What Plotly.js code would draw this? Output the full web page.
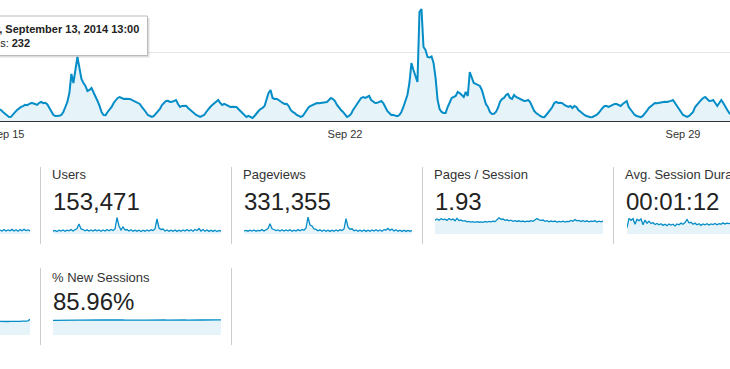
<!DOCTYPE html>
<html>
<head>
<meta charset="utf-8">
<script src="https://cdn.plot.ly/plotly-3.0.1.min.js"></script>
<style>
html,body{margin:0;padding:0;background:#fff;overflow:hidden;}
#chart{width:730px;height:369px;}
</style>
</head>
<body>
<div id="chart"></div>
<script>
// ---------- DATA ----------
// Hourly sessions, starting 2014-09-14 20:00
var startHour = '2014-09-14T20:00:00Z';
var sep14 = [174,160,131,102];
var sep15 = [87,58,61,102,128,160,186,205,216,235,230,248,262,258,245,233,264,276,259,263,244,190,128,89];
var sep16 = [73,70,75,87,131,203,276,406,682,551,711,928,769,609,551,508,435,450,479,421,363,290,218,131];
var sep17 = [87,85,131,160,203,261,305,334,348,334,319,322,318,320,305,290,276,261,247,203,174,131,87,73];
var sep18 = [58,73,102,131,174,232,261,290,292,276,278,290,305,247,203,218,216,220,189,160,131,102,87,73];
var sep19 = [58,73,87,131,174,203,232,261,290,305,261,232,247,232,218,203,205,201,203,174,145,116,87,58];
var sep20 = [73,58,44,73,116,145,174,189,218,305,406,450,334,319,321,305,276,261,247,249,218,160,131,116];
var sep21 = [87,73,58,73,116,174,203,218,232,247,261,259,263,261,276,274,305,334,319,290,232,189,160,131];
var sep22 = [87,58,73,102,160,203,261,305,334,348,334,348,363,305,276,261,263,276,290,261,203,145,116,87];
var sep23 = [87,73,70,87,131,203,290,377,551,841,740,638,566,1581,1624,1073,1030,928,920,935,841,624,305,174];
var sep24 = [131,116,116,203,261,334,348,363,421,406,377,348,421,363,711,624,551,537,522,508,450,348,247,203];
var sep25 = [131,102,104,131,189,276,319,334,377,392,334,319,377,348,334,319,305,290,292,305,276,203,145,116];
var sep26 = [87,73,58,55,87,116,160,203,261,276,261,263,259,232,218,203,218,189,218,203,160,131,102,87];
var sep27 = [73,58,55,58,73,87,116,160,189,218,216,203,218,232,247,245,232,218,247,276,290,203,160,116];
var sep28 = [87,73,58,55,73,102,145,189,218,247,261,259,263,276,274,278,276,290,292,305,261,218,160,116];
var sep29 = [87,73,58,73,102,131,203,232,276,305,334,348,319,290,292,305,261,218,261,305,261,203,160,116];
var sep30 = [87];

var tickVals = ['2014-09-15 00:00','2014-09-22 00:00','2014-09-29 00:00'];
var tickText = ['Sep 15','Sep 22','Sep 29'];

// Scorecards
var cardTitles = ['Users','Pageviews','Pages / Session','Avg. Session Duration','% New Sessions'];
var cardValues = ['153,471','331,355','1.93','00:01:12','85.96%'];

// Sparklines
var sessionsSpark = [440,330,495,330,440,352,506,330,462,308,484,352,528,374,440,352];
var usersSpark = [300,350,250,380,300,400,280,380,320,450,300,400,550,1000,500,450,320,420,300,400,300,420,320,400,280,400,300,450,320,450,350,500,1650,800,400,700,400,450,300,420,280,380,280,380,250,380,280,400,300,420,350,500,1500,600,450,500,300,400,280,380,280,400,260,380,280,400,300,450,300,420,280,450,350,550,300,450,280,400,260,380,260,380,250,350,300];
var pageviewsSpark = [704,792,616,836,660,880,616,792,704,968,660,880,1210,2266,1144,990,748,880,660,924,660,880,704,924,616,836,660,968,704,1012,836,1320,3740,1980,1760,1100,1012,704,924,616,880,616,836,572,836,616,880,660,924,748,1100,3388,1540,1056,1144,704,880,616,836,616,880,572,836,616,880,660,924,660,880,616,968,880,1232,792,1100,660,924,616,836,572,836,572,792,616,748];
var pagesPerSessionSpark = [2.09,2.29,2.11,2.33,2.20,2.26,2.08,2.36,2.17,2.29,2.02,2.40,2.05,2.14,1.98,2.05,1.86,1.94,1.83,1.89,1.78,1.89,1.80,1.86,1.78,1.91,1.83,1.92,1.86,1.95,1.89,2.17,2.48,2.25,2.29,2.09,2.17,2.02,2.11,1.94,2.05,1.92,2.02,1.89,1.98,1.86,1.98,1.92,2.05,1.95,2.17,2.36,2.17,2.08,2.14,1.95,2.05,1.86,1.98,1.89,1.98,1.83,1.92,1.86,1.95,1.83,1.94,1.89,2.08,1.95,2.20,2.02,2.09,1.92,2.05,1.89,2.02,1.86,1.98,1.92,2.02,1.83,1.95,1.86,1.98];
var avgDurationSpark = [45,112,98,110,70,105,95,108,66,100,78,92,75,82,68,76,66,74,62,70,60,72,64,70,58,72,66,78,70,82,104,80,84,70,78,66,74,62,72,66,74,64,72,68,76,66,74,70,80,72,78,74,78];
var bounceSpark = [60.5,59.8,59.2,60.1,59.5,60.3,59.7,60.6,60.0,60.8,60.2,61.0,60.4,61.5,62.5,69.0];
var newSessionsSpark = [83.5,83.8,83.6,84.0,83.9,84.2,84.5,84.4,85.0,85.3,85.8,86.5,87.2,86.8,87.5,87.0,86.6,87.1,86.4,86.8,86.2,86.7,86.5,86.9,86.3,86.6,86.1,86.5,86.0,86.4,85.8,86.2,85.6,86.0,85.5,85.9,85.4,85.8,85.6,86.0,85.5,85.2,85.7,85.1,85.6,85.3,85.8,85.4,85.9,85.5,86.0,85.6,85.9,85.4,85.8,85.5,86.1,85.7,86.2,85.8,86.0,85.6,86.1,85.7,86.3,85.9,86.2,85.8,86.4,86.0,86.3,85.9,86.5,86.1,86.4,86.0,86.6,86.2,86.5,86.1,86.7,86.3,86.8,86.5,87.0];

// ---------- BUILD ----------
var W = 730, H = 369;
function px(x){ return x / W; }
function py(y){ return 1 - y / H; }

var sessions = [].concat(sep14,sep15,sep16,sep17,sep18,sep19,sep20,sep21,sep22,sep23,sep24,sep25,sep26,sep27,sep28,sep29,sep30);
var t0 = Date.parse(startHour);
var times = sessions.map(function(_, i){
  var d = new Date(t0 + i * 3600000).toISOString();
  return d.slice(0,10) + ' ' + d.slice(11,16);
});

var BLUE = '#058dc7';
var FILL = 'rgba(5,141,199,0.1)';
var FONT = 'Liberation Sans, Arial, Helvetica, sans-serif';

var traces = [{
  x: times, y: sessions, type: 'scatter', mode: 'lines',
  line: {color: BLUE, width: 2}, fill: 'tozeroy', fillcolor: FILL,
  xaxis: 'x', yaxis: 'y', hoverinfo: 'skip'
}];

var layout = {
  width: W, height: H,
  margin: {l: 0, r: 0, t: 0, b: 0, pad: 0},
  paper_bgcolor: '#fff', plot_bgcolor: '#fff',
  showlegend: false,
  font: {family: FONT, color: '#333'},
  xaxis: {
    type: 'date', domain: [0, 1], anchor: 'y',
    range: ['2014-09-14 20:31:15', '2014-09-29 23:20'],
    showgrid: false, zeroline: false,
    showline: true, linecolor: '#333', linewidth: 1,
    tickmode: 'array', tickvals: tickVals, ticktext: tickText,
    ticks: '', ticklabelstandoff: 3, ticklabeloverflow: 'allow',
    tickfont: {size: 11, color: '#333', family: FONT},
    fixedrange: true
  },
  yaxis: {
    domain: [py(121), 1], anchor: 'x',
    range: [0, 1754.5], dtick: 1000, tick0: 0,
    showgrid: true, gridcolor: '#e6e6e6', gridwidth: 1,
    zeroline: false, showticklabels: false, ticks: '', showline: false,
    fixedrange: true
  },
  shapes: [],
  annotations: []
};

var sparks = [
  {v: sessionsSpark, x0: 0, x1: 30, y0: 217, y1: 234, max: 1870},
  {v: usersSpark, x0: 53, x1: 221, y0: 217, y1: 234, max: 1700},
  {v: pageviewsSpark, x0: 244, x1: 412, y0: 217, y1: 234, max: 3740},
  {v: pagesPerSessionSpark, x0: 435, x1: 603, y0: 217, y1: 234, max: 2.6},
  {v: avgDurationSpark, x0: 627, x1: 730, y0: 217, y1: 234, max: 122},
  {v: bounceSpark, x0: 0, x1: 30, y0: 318, y1: 335, max: 75},
  {v: newSessionsSpark, x0: 53, x1: 221, y0: 318, y1: 335, max: 97.5}
];

sparks.forEach(function(s, k){
  var n = k + 2;
  var xs = s.v.map(function(_, i){ return i; });
  traces.push({
    x: xs, y: s.v, type: 'scatter', mode: 'lines',
    line: {color: BLUE, width: 1.3}, fill: 'tozeroy', fillcolor: FILL,
    xaxis: 'x' + n, yaxis: 'y' + n, hoverinfo: 'skip'
  });
  var lastX = s.v.length - 1;
  if (s.x1 >= 730) lastX = (s.v.length - 1) * (730 - s.x0) / ((s.v.length - 1) * 2);
  layout['xaxis' + n] = {domain: [px(s.x0), Math.min(1, px(s.x1))], anchor: 'y' + n,
    range: [0, lastX], visible: false, fixedrange: true};
  layout['yaxis' + n] = {domain: [py(s.y1), py(s.y0)], anchor: 'x' + n,
    range: [0, s.max], visible: false, fixedrange: true};
});

// Card separators
[40.5, 231.5, 422.5, 613.5].forEach(function(x){
  layout.shapes.push({type: 'line', xref: 'paper', yref: 'paper',
    x0: px(x), x1: px(x), y0: py(167), y1: py(244), line: {color: '#cccccc', width: 1}});
});
[40.5, 231.5].forEach(function(x){
  layout.shapes.push({type: 'line', xref: 'paper', yref: 'paper',
    x0: px(x), x1: px(x), y0: py(268), y1: py(345), line: {color: '#cccccc', width: 1}});
});

// Card texts
var cardPos = [[51, 174.5, 52, 201], [242, 174.5, 243, 201], [433, 174.5, 434, 201], [624, 174.5, 625, 201], [51, 277, 52, 301.5]];
cardTitles.forEach(function(t, i){
  var p = cardPos[i];
  layout.annotations.push({text: t, xref: 'paper', yref: 'paper', x: px(p[0]), y: py(p[1]),
    xanchor: 'left', yanchor: 'middle', showarrow: false, borderpad: 0,
    font: {family: FONT, size: 13, color: '#333'}});
  layout.annotations.push({text: cardValues[i], xref: 'paper', yref: 'paper', x: px(p[2]), y: py(p[3]),
    xanchor: 'left', yanchor: 'middle', showarrow: false, borderpad: 0,
    font: {family: FONT, size: 24, color: '#222'}});
});

// Tooltip
layout.shapes.push({type: 'rect', xref: 'paper', yref: 'paper', layer: 'above',
  x0: px(-10), x1: px(149.5), y0: py(57.5), y1: py(18), fillcolor: 'rgba(0,0,0,0.13)', line: {width: 0}});
layout.shapes.push({type: 'rect', xref: 'paper', yref: 'paper', layer: 'above',
  x0: px(-10), x1: px(147.5), y0: py(55.5), y1: py(16), fillcolor: '#ffffff', line: {color: '#bbbbbb', width: 1}});
layout.annotations.push({text: '<b>Saturday, September 13, 2014 13:00</b>', xref: 'paper', yref: 'paper',
  x: px(139.5), y: py(28.5), xanchor: 'right', yanchor: 'middle', showarrow: false, borderpad: 0,
  font: {family: FONT, size: 11, color: '#222'}});
layout.annotations.push({text: 'Sessions: <b>232</b>', xref: 'paper', yref: 'paper',
  x: px(31), y: py(42.5), xanchor: 'right', yanchor: 'middle', showarrow: false, borderpad: 0,
  font: {family: FONT, size: 11, color: '#222'}});

Plotly.newPlot('chart', traces, layout, {staticPlot: true, displayModeBar: false});
</script>
</body>
</html>
